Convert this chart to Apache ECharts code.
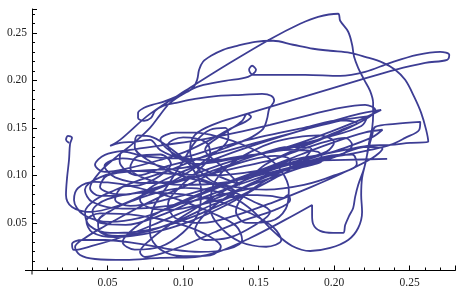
<!DOCTYPE html>
<html><head><meta charset="utf-8">
<script src="https://cdn.jsdelivr.net/npm/echarts@6/dist/echarts.min.js"></script>
<style>html,body{margin:0;padding:0;background:#fff}#c{width:472px;height:296px}</style>
</head><body><div id="c"></div>
<script>
// Tick labels
const xTicks = [0.05, 0.10, 0.15, 0.20, 0.25];
const yTicks = [0.05, 0.10, 0.15, 0.20, 0.25];
// Path, in segments (x values, y values)
const segAx = [0.0245,0.0225,0.0238,0.0265,0.0252,0.0245,0.0232,0.0225,0.0265,0.0384,0.0583,0.0781,0.1013,0.1245,0.1477,0.1709,0.1894,0.1921,0.1775,0.1543,0.1311,0.1079,0.0848,0.0616,0.0397,0.0278,0.0265,0.0331,0.0483,0.0715,0.0947,0.1113,0.1298,0.1391,0.1351,0.1192,0.0993,0.0781,0.0583,0.0417,0.0305,0.0278,0.0344,0.0517,0.0715,0.0914,0.1113,0.1325,0.1523,0.1722,0.1907,0.2073,0.2219,0.2371,0.2503,0.2623];
const segAy = [0.1342,0.1374,0.1416,0.1395,0.1332,0.1163,0.0974,0.0795,0.0668,0.0616,0.0689,0.0826,0.0974,0.1111,0.1216,0.1268,0.1247,0.1163,0.1079,0.0953,0.0816,0.0668,0.0511,0.0363,0.0258,0.0216,0.0279,0.0321,0.0321,0.0279,0.0216,0.0195,0.0226,0.0321,0.0468,0.0605,0.0732,0.0837,0.0911,0.0932,0.0868,0.0742,0.0584,0.0511,0.0553,0.0658,0.0795,0.0932,0.1058,0.1163,0.1216,0.1268,0.1311,0.1321,0.1342,0.1353];
const segBx = [0.2609,0.2576,0.2530,0.2470,0.2404,0.2325,0.2205,0.2106,0.1974,0.1861,0.1728,0.1596,0.1477,0.1358,0.1265,0.1185,0.1132,0.1106,0.1093,0.1060,0.0967,0.0868,0.0795,0.0742,0.0702,0.0702,0.0742,0.0788,0.0815,0.0868,0.0954,0.1079,0.1232,0.1391,0.1523,0.1583,0.1603,0.1570,0.1556,0.1530,0.1457,0.1351,0.1212,0.1046,0.0881,0.0715,0.0550,0.0417,0.0351,0.0384,0.0517,0.0682,0.0881,0.1079,0.1278,0.1457,0.1609,0.1709,0.1709,0.1609,0.1444,0.1245,0.1046,0.0848,0.0649,0.0483,0.0351,0.0285,0.0318,0.0417,0.0616,0.0848,0.1079,0.1232];
const segBy = [0.1479,0.1658,0.1826,0.2005,0.2111,0.2184,0.2247,0.2289,0.2311,0.2332,0.2374,0.2416,0.2405,0.2363,0.2321,0.2258,0.2195,0.2111,0.2005,0.1911,0.1837,0.1774,0.1742,0.1711,0.1658,0.1605,0.1574,0.1605,0.1679,0.1732,0.1763,0.1805,0.1837,0.1847,0.1858,0.1837,0.1784,0.1700,0.1595,0.1489,0.1405,0.1332,0.1247,0.1142,0.1037,0.0953,0.0847,0.0742,0.0616,0.0468,0.0395,0.0405,0.0468,0.0574,0.0711,0.0847,0.0974,0.1079,0.1163,0.1205,0.1163,0.1058,0.0911,0.0774,0.0616,0.0468,0.0342,0.0247,0.0163,0.0121,0.0111,0.0132,0.0142,0.0195];
const segCx = [0.1444,0.1675,0.1854,0.1854,0.1861,0.1907,0.1993,0.2060,0.2073,0.2099,0.2126,0.2139,0.2159,0.2199,0.2225,0.2252,0.2272,0.2404,0.2570,0.2563,0.2470,0.2371,0.2238,0.2073,0.1874,0.1675,0.1497,0.1344,0.1192,0.1046,0.0901,0.0781,0.0715,0.0748,0.0848,0.1013,0.1212,0.1411,0.1609,0.1709,0.1695,0.1662];
const segCy = [0.0342,0.0532,0.0689,0.0584,0.0489,0.0416,0.0395,0.0395,0.0479,0.0574,0.0658,0.0774,0.0900,0.1079,0.1268,0.1426,0.1511,0.1542,0.1563,0.1479,0.1395,0.1321,0.1268,0.1216,0.1163,0.1100,0.1005,0.0900,0.0763,0.0616,0.0468,0.0321,0.0195,0.0142,0.0174,0.0268,0.0405,0.0532,0.0637,0.0742,0.0795,0.0763];
const segDx = [0.1576,0.1411,0.1245,0.1079,0.0914,0.0781,0.0715,0.0781,0.0947,0.1146,0.1377,0.1642,0.1907,0.2139,0.2311,0.2172,0.1974,0.1775,0.1576,0.1377,0.1179,0.0980,0.0848,0.0781,0.0682,0.0583,0.0517,0.0583,0.0781,0.1046,0.1311,0.1576,0.1775,0.1894,0.2026,0.2040,0.2093,0.2119,0.2132,0.2159,0.2199,0.2238,0.2258,0.2258,0.2252,0.2232,0.2212,0.2185,0.2179,0.2185,0.2159,0.2093,0.1974,0.1841,0.1722,0.1609,0.1523,0.1430,0.1311,0.1166,0.1013,0.0848,0.0682,0.0530,0.0437,0.0450,0.0570,0.0748,0.0947,0.1146,0.1344];
const segDy = [0.0784,0.0795,0.0742,0.0679,0.0637,0.0658,0.0742,0.0868,0.1005,0.1132,0.1268,0.1405,0.1532,0.1637,0.1689,0.1584,0.1458,0.1342,0.1247,0.1184,0.1163,0.1184,0.1268,0.1374,0.1353,0.1342,0.1311,0.1374,0.1647,0.1921,0.2184,0.2432,0.2595,0.2668,0.2700,0.2626,0.2511,0.2374,0.2247,0.2132,0.2005,0.1889,0.1763,0.1637,0.1500,0.1353,0.1163,0.0974,0.0795,0.0616,0.0447,0.0321,0.0237,0.0205,0.0258,0.0395,0.0532,0.0668,0.0784,0.0847,0.0868,0.0826,0.0742,0.0637,0.0511,0.0405,0.0363,0.0405,0.0511,0.0658,0.0826];
const segEx = [0.1179,0.1079,0.1046,0.1079,0.1212,0.1377,0.1576,0.1775,0.1974,0.2172,0.2404,0.2603,0.2748,0.2762,0.2702,0.2550,0.2371,0.2205,0.2040,0.1808,0.1576,0.1464,0.1437,0.1457,0.1483,0.1430,0.1278,0.1113,0.1013,0.0914,0.0848,0.0781,0.0682,0.0550,0.0450,0.0384,0.0450,0.0616,0.0815,0.1013,0.1212,0.1411,0.1589,0.1775,0.1940,0.2073,0.2119,0.2040,0.1841,0.1642,0.1444,0.1278,0.1146,0.1079,0.1146,0.1298,0.1477,0.1576,0.1556];
const segEy = [0.0953,0.1111,0.1268,0.1426,0.1542,0.1626,0.1721,0.1816,0.1911,0.2005,0.2111,0.2184,0.2216,0.2268,0.2300,0.2268,0.2184,0.2089,0.2047,0.2058,0.2058,0.2058,0.2111,0.2153,0.2111,0.2037,0.1995,0.1942,0.1868,0.1763,0.1637,0.1500,0.1353,0.1184,0.1037,0.0868,0.0784,0.0795,0.0868,0.0953,0.1026,0.1100,0.1163,0.1268,0.1353,0.1395,0.1321,0.1216,0.1121,0.1037,0.0911,0.0763,0.0595,0.0426,0.0321,0.0342,0.0479,0.0616,0.0658];
const segGx = [0.150,0.130,0.105,0.080,0.060,0.048,0.055,0.075,0.100,0.125,0.150,0.170,0.185,0.180,0.160,0.135,0.110,0.085,0.068,0.060,0.068,0.085,0.100,0.110,0.112,0.105,0.092,0.080,0.070,0.068,0.078,0.098,0.125,0.155,0.180,0.200,0.215,0.212,0.195,0.170,0.140,0.110,0.085,0.062,0.045,0.040,0.050,0.075,0.100,0.125,0.145,0.160,0.165,0.155,0.138,0.125,0.118,0.120,0.130,0.145,0.160,0.175,0.190,0.200,0.195,0.175,0.150,0.120,0.090,0.065,0.045,0.035,0.040,0.060,0.090,0.120,0.150];
const segGy = [0.070,0.085,0.100,0.112,0.118,0.110,0.098,0.092,0.095,0.108,0.122,0.130,0.128,0.118,0.108,0.095,0.080,0.062,0.045,0.030,0.022,0.025,0.040,0.060,0.085,0.110,0.128,0.140,0.142,0.130,0.115,0.100,0.090,0.085,0.090,0.100,0.112,0.122,0.120,0.108,0.092,0.075,0.058,0.048,0.050,0.062,0.075,0.082,0.080,0.072,0.060,0.045,0.032,0.025,0.030,0.045,0.065,0.090,0.110,0.125,0.135,0.140,0.142,0.135,0.125,0.115,0.105,0.100,0.102,0.105,0.098,0.085,0.072,0.065,0.068,0.078,0.088];
const segHx = [0.130,0.105,0.080,0.055,0.040,0.036,0.045,0.070,0.095,0.115,0.125,0.118,0.100,0.085,0.078,0.080,0.090,0.100,0.108,0.118,0.128,0.130,0.118,0.100,0.080,0.058,0.045,0.050,0.072,0.100,0.130,0.160,0.185,0.205,0.215,0.205,0.180,0.150,0.120,0.095,0.075,0.060,0.058,0.070];
const segHy = [0.070,0.052,0.040,0.035,0.040,0.052,0.060,0.058,0.050,0.038,0.025,0.016,0.015,0.022,0.040,0.065,0.090,0.115,0.135,0.148,0.150,0.140,0.120,0.100,0.085,0.080,0.088,0.100,0.105,0.108,0.118,0.125,0.135,0.148,0.155,0.158,0.150,0.140,0.128,0.118,0.120,0.125,0.115,0.100];
const segIx = [0.090,0.120,0.150,0.180,0.205,0.222,0.218,0.195,0.165,0.135,0.110,0.095,0.090,0.100,0.115,0.118,0.110,0.098,0.090,0.095,0.112,0.135,0.160,0.185,0.205,0.225,0.232,0.222,0.200,0.175,0.150,0.125,0.100,0.078,0.065,0.070,0.085,0.092,0.085,0.072,0.060,0.055,0.065,0.090,0.120,0.150,0.178,0.200,0.220,0.232,0.225,0.205,0.180,0.155,0.140,0.135,0.142,0.158,0.168,0.170,0.165,0.155,0.140,0.125,0.108,0.095,0.085];
const segIy = [0.110,0.122,0.135,0.148,0.158,0.162,0.152,0.140,0.128,0.118,0.112,0.120,0.132,0.140,0.135,0.122,0.105,0.088,0.070,0.055,0.050,0.058,0.072,0.088,0.102,0.118,0.128,0.130,0.120,0.110,0.100,0.092,0.090,0.095,0.108,0.120,0.122,0.112,0.100,0.090,0.088,0.075,0.068,0.075,0.088,0.105,0.122,0.135,0.145,0.148,0.140,0.128,0.115,0.095,0.078,0.062,0.050,0.052,0.065,0.085,0.105,0.120,0.132,0.140,0.145,0.145,0.138];
const segFx = [0.1377,0.1245,0.1146,0.1278,0.1391,0.1424,0.1450,0.1411,0.1325,0.1179,0.1013,0.0848,0.0649,0.0483,0.0417,0.0483,0.0649,0.0881,0.1113,0.1344,0.1576,0.1841,0.2040,0.2205,0.2272,0.2139,0.1907,0.1709,0.1543,0.1444,0.1642,0.1841,0.2073,0.2351];
const segFy = [0.0900,0.1111,0.1268,0.1447,0.1574,0.1647,0.1616,0.1563,0.1500,0.1374,0.1247,0.1163,0.1079,0.1037,0.1111,0.1216,0.1268,0.1321,0.1374,0.1447,0.1532,0.1637,0.1711,0.1742,0.1689,0.1532,0.1374,0.1247,0.1111,0.0974,0.1111,0.1153,0.1163,0.1174];

const xsAll = [].concat(segAx, segBx, segCx, segDx, segEx, segGx, segHx, segIx, segFx);
const ysAll = [].concat(segAy, segBy, segCy, segDy, segEy, segGy, segHy, segIy, segFy);
const pathData = xsAll.map((x, i) => [x, ysAll[i]]);

const chart = echarts.init(document.getElementById('c'), null, {renderer: 'canvas'});
const axisCommon = {
  type: 'value', min: 0, interval: 0.05,
  axisLine: {show: true, onZero: false, lineStyle: {color: '#000', width: 1}},
  axisTick: {show: true, inside: true, length: 5, lineStyle: {color: '#000'}},
  minorTick: {show: true, splitNumber: 5, length: 3, lineStyle: {color: '#000'}},
  splitLine: {show: false},
  axisLabel: {color: '#222', fontFamily: 'Liberation Serif', fontSize: 11.5, showMaxLabel: false}
};
chart.setOption({
  animation: false,
  grid: {left: 32, right: 17, top: 9, bottom: 25.5, containLabel: false},
  xAxis: Object.assign({}, axisCommon, {max: 0.28,
    axisLabel: Object.assign({}, axisCommon.axisLabel, {margin: 6,
      formatter: v => xTicks.some(t => Math.abs(t - v) < 1e-6) ? v.toFixed(2) : ''})}),
  yAxis: Object.assign({}, axisCommon, {max: 0.275,
    axisLabel: Object.assign({}, axisCommon.axisLabel, {margin: 5,
      formatter: v => yTicks.some(t => Math.abs(t - v) < 1e-6) ? v.toFixed(2) : ''})}),
  series: [{
    type: 'line', data: pathData, showSymbol: false, smooth: 0.35,
    lineStyle: {color: '#3d3d94', width: 1.8}, clip: false
  }]
});
// small axis overhang at the origin, as in the reference
const o = chart.convertToPixel({gridIndex: 0}, [0, 0]);
chart.setOption({graphic: [
  {type: 'line', shape: {x1: o[0] - 7, y1: o[1], x2: o[0], y2: o[1]}, style: {stroke: '#000', lineWidth: 1}},
  {type: 'line', shape: {x1: o[0], y1: o[1], x2: o[0], y2: o[1] + 4}, style: {stroke: '#000', lineWidth: 1}}
]});
</script></body></html>
